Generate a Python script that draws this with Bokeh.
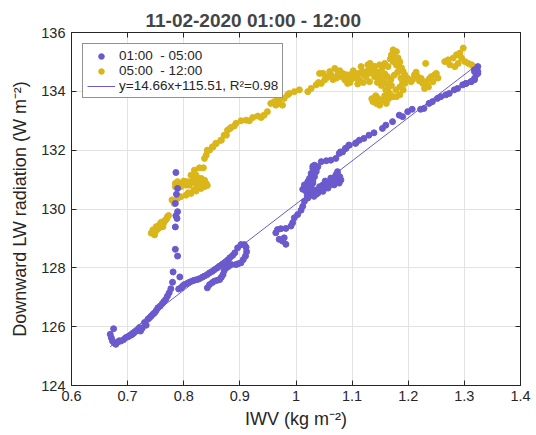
from bokeh.plotting import figure
from bokeh.models import Legend, LegendItem, FixedTicker, ColumnDataSource, LinearAxis, Range1d
from bokeh.embed import file_html
from bokeh.resources import INLINE

# ---- data ----
purple_x = [0.675, 0.669, 0.671, 0.673, 0.676, 0.679, 0.682, 0.685, 0.688, 0.693, 0.697, 0.701, 0.706, 0.709, 0.712,
            0.716, 0.721, 0.723, 0.726, 0.730, 0.733, 0.736, 0.739, 0.742, 0.745, 0.748, 0.751, 0.754, 0.758, 0.762,
            0.765, 0.768, 0.771, 0.774, 0.777, 0.791, 0.795, 0.798, 0.801, 0.806, 0.810, 0.815, 0.819, 0.824, 0.828,
            0.833, 0.837, 0.842, 0.846, 0.851, 0.855, 0.860, 0.864, 0.869, 0.873, 0.878, 0.882, 0.887, 0.891, 0.896,
            0.902, 0.908, 0.911, 0.912, 0.910, 0.906, 0.902, 0.897, 0.893, 0.885, 0.880, 0.876, 0.872, 0.870, 0.867,
            0.864, 0.860, 0.855, 0.851, 0.846, 0.842,
            0.786, 0.789, 0.787, 0.785, 0.789, 0.786, 0.788, 0.785, 0.785, 0.789, 0.781, 0.793, 0.780,
            0.982, 0.976, 0.979, 0.970, 0.964, 0.967, 0.973, 0.982, 0.991, 0.994, 0.997, 1.003, 1.009, 1.012, 1.015,
            1.021, 1.024, 1.018, 1.012, 1.015, 1.021, 1.024, 1.027, 1.030, 1.033, 1.039, 1.036, 1.033, 1.030, 1.027,
            1.033, 1.042, 1.048, 1.054, 1.060, 1.065, 1.071, 1.074, 1.080, 1.077, 1.068, 1.057, 1.048, 1.039, 1.032,
            1.020, 1.026, 1.036, 1.044, 1.050, 1.058, 1.063, 1.069, 1.074, 1.078, 1.072, 1.062, 1.052, 1.028, 1.025,
            1.020, 1.030, 1.036, 1.030,
            1.045, 1.054, 1.062, 1.071, 1.077, 1.083, 1.089, 1.095, 1.107, 1.113,
            1.079, 1.088, 1.094, 1.106, 1.121, 1.130, 1.139, 1.154, 1.160, 1.172, 1.184, 1.190, 1.199, 1.207, 1.222,
            1.228, 1.237, 1.243, 1.252, 1.258, 1.267, 1.273, 1.282, 1.288, 1.297, 1.303, 1.312, 1.318, 1.321, 1.324,
            1.318, 1.324, 1.321, 1.318, 1.324, 1.318, 1.312, 1.303]
purple_y = [125.93, 125.74, 125.62, 125.51, 125.45, 125.40, 125.47, 125.52, 125.51, 125.56, 125.63, 125.66, 125.71, 125.75, 125.80,
            125.86, 125.97, 125.85, 125.95, 126.14, 126.05, 126.25, 126.30, 126.36, 126.42, 126.47, 126.55, 126.64, 126.70, 126.79,
            126.86, 126.93, 127.04, 127.15, 127.29, 127.28, 127.32, 127.38, 127.43, 127.47, 127.51, 127.55, 127.58, 127.60, 127.63,
            127.68, 127.72, 127.77, 127.83, 127.88, 127.94, 128.00, 128.06, 128.12, 128.17, 128.25, 128.34, 128.42, 128.51, 128.68,
            128.79, 128.79, 128.70, 128.55, 128.40, 128.28, 128.17, 128.14, 128.11, 128.11, 128.05, 128.00, 127.90, 127.77, 127.68,
            127.60, 127.58, 127.55, 127.50, 127.43, 127.32,
            131.24, 130.70, 130.50, 130.19, 129.91, 129.77, 129.68, 129.39, 128.63, 128.40, 127.86, 127.69, 127.51,
            128.80, 128.91, 129.02, 128.97, 129.19, 129.30, 129.33, 129.34, 129.42, 129.53, 129.70, 129.81, 129.96, 130.09, 130.26,
            130.37, 130.48, 130.60, 130.67, 130.82, 130.93, 131.04, 131.21, 131.38, 131.49, 131.44, 131.27, 131.10, 130.88, 130.71,
            130.65, 130.76, 130.82, 130.88, 130.93, 130.99, 131.16, 131.27, 130.99, 130.88, 130.82, 130.71, 130.60, 130.54, 130.43,
            130.45, 130.55, 130.50, 130.65, 130.70, 130.78, 130.85, 130.92, 131.05, 131.10, 130.95, 131.05, 130.95, 131.05, 130.85,
            130.70, 130.95, 131.35, 131.45,
            131.61, 131.64, 131.66, 131.72, 131.89, 131.94, 132.06, 132.17, 132.25, 132.34,
            131.94, 132.06, 132.17, 132.23, 132.40, 132.51, 132.59, 132.74, 132.85, 132.97, 133.19, 133.14, 133.31, 133.39, 133.39,
            133.42, 133.59, 133.65, 133.76, 133.82, 133.88, 133.93, 134.05, 134.10, 134.22, 134.27, 134.33, 134.39, 134.56, 134.67,
            134.73, 134.84, 134.73, 134.67, 134.61, 134.44, 134.33, 134.27]

yellow_x = [0.742, 0.745, 0.751, 0.757, 0.763, 0.768, 0.771, 0.748, 0.754, 0.763, 0.760, 0.766,
            0.745, 0.750, 0.756, 0.760, 0.752, 0.758, 0.765, 0.770, 0.773, 0.748,
            0.779, 0.783, 0.789, 0.795, 0.804, 0.813, 0.822, 0.831, 0.837, 0.840, 0.837, 0.831, 0.825, 0.822, 0.816,
            0.810, 0.804, 0.795, 0.789, 0.785, 0.785, 0.795, 0.807, 0.813, 0.819, 0.828, 0.835, 0.837, 0.840, 0.846,
            0.852, 0.858, 0.867, 0.876, 0.882,
            0.790, 0.800, 0.812, 0.822, 0.830, 0.835, 0.842, 0.826, 0.818, 0.808,
            0.842, 0.851, 0.857, 0.866, 0.872, 0.878, 0.884, 0.890, 0.893, 0.902, 0.911, 0.917, 0.923, 0.932, 0.938,
            0.943, 0.949, 0.955, 0.961, 0.967, 0.973, 0.979, 0.985, 0.988, 0.970, 0.976, 0.964, 0.997, 1.006, 1.021,
            1.027, 1.036, 1.045, 1.051, 1.042, 1.048, 1.057, 1.060, 1.069, 1.075, 1.081, 1.087, 1.092, 1.090,
            1.063, 1.072, 1.078, 1.084, 1.066, 1.090, 1.054, 1.096, 1.040,
            1.095, 1.101, 1.110, 1.119, 1.125, 1.131, 1.137, 1.143, 1.149, 1.155, 1.161, 1.164, 1.167, 1.173, 1.179,
            1.185, 1.191, 1.194, 1.194, 1.191, 1.185, 1.179, 1.182, 1.179, 1.173, 1.170, 1.173, 1.164, 1.155, 1.149,
            1.137, 1.143, 1.149, 1.161, 1.155, 1.146, 1.113, 1.104, 1.128, 1.116,
            1.098, 1.107, 1.113, 1.122, 1.128, 1.134, 1.140, 1.146, 1.152, 1.158, 1.163, 1.169, 1.175, 1.181, 1.187,
            1.190, 1.185, 1.178, 1.170, 1.160, 1.152, 1.145, 1.140, 1.132, 1.158, 1.168, 1.176, 1.185, 1.142, 1.150,
            1.158, 1.135, 1.165, 1.188, 1.196, 1.120, 1.110, 1.102,
            1.199, 1.205, 1.211, 1.217, 1.223, 1.226, 1.229, 1.232, 1.238, 1.244, 1.247, 1.250, 1.231, 1.265, 1.271,
            1.280, 1.286, 1.292, 1.298, 1.295, 1.301, 1.307, 1.313, 1.316, 1.274, 1.283, 1.289,
            1.208, 1.214, 1.220, 1.234, 1.241, 1.253, 1.236]
yellow_y = [129.18, 129.29, 129.40, 129.46, 129.51, 129.63, 129.74, 129.12, 129.34, 129.40, 129.55, 129.60,
            129.20, 129.25, 129.35, 129.42, 129.30, 129.50, 129.55, 129.68, 129.78, 129.22,
            130.31, 130.19, 130.36, 130.42, 130.47, 130.53, 130.61, 130.70, 130.76, 130.87, 130.98, 131.04, 131.04, 131.15, 130.98,
            130.81, 130.81, 130.87, 130.93, 130.87, 130.76, 130.76, 130.93, 131.15, 131.32, 131.40, 131.40, 131.72, 131.83, 132.00,
            132.11, 132.23, 132.34, 132.51, 132.73,
            130.85, 130.95, 130.90, 130.85, 130.92, 130.85, 130.80, 130.75, 130.65, 130.55,
            132.00, 132.11, 132.23, 132.34, 132.51, 132.68, 132.77, 132.82, 132.91, 133.00, 133.02, 133.00, 133.11, 133.16, 133.11,
            133.19, 133.31, 133.59, 133.65, 133.70, 133.76, 133.76, 133.88, 133.93, 133.59, 133.53, 133.53, 133.99, 134.05, 133.99,
            134.10, 134.22, 134.27, 134.39, 134.61, 134.61, 134.50, 134.67, 134.78, 134.61, 134.50, 134.39, 134.27, 134.56,
            134.55, 134.45, 134.70, 134.60, 134.40, 134.45, 134.45, 134.30, 134.30,
            134.56, 134.50, 134.56, 134.67, 134.50, 134.33, 134.78, 134.67, 134.56, 134.39, 134.27, 134.10, 133.93, 133.82, 133.82,
            133.88, 134.05, 134.27, 134.56, 134.67, 134.78, 134.89, 135.13, 135.35, 135.41, 135.24, 135.01, 134.84, 134.84, 134.90,
            133.65, 133.59, 133.53, 133.59, 133.70, 133.76, 134.39, 134.61, 134.90, 134.84,
            134.40, 134.45, 134.62, 134.55, 134.70, 134.62, 134.50, 134.45, 134.70, 134.60, 134.50, 134.40, 134.55, 134.65, 134.45,
            134.30, 134.15, 134.05, 134.20, 134.05, 134.20, 134.30, 134.85, 134.95, 134.95, 135.10, 135.15, 135.00, 133.85, 133.70,
            133.85, 133.75, 133.75, 134.80, 134.40, 134.30, 134.25, 134.70,
            134.44, 134.33, 134.56, 134.50, 134.44, 134.27, 134.10, 134.33, 134.44, 134.33, 134.56, 134.61, 134.95, 135.01, 135.07,
            135.13, 135.24, 135.30, 135.47, 135.13, 135.01, 134.95, 134.90, 134.84, 134.90, 134.84, 134.95,
            134.40, 134.65, 134.35, 134.20, 134.50, 134.45, 134.15]

fit_slope = 14.66
fit_intercept = 115.51
legend_labels = ["01:00  - 05:00", "05:00  - 12:00", "y=14.66x+115.51, R\u00b2=0.98"]
x_ticks = [0.6, 0.7, 0.8, 0.9, 1.0, 1.1, 1.2, 1.3, 1.4]
x_tick_labels = ["0.6", "0.7", "0.8", "0.9", "1", "1.1", "1.2", "1.3", "1.4"]
y_ticks = [124, 126, 128, 130, 132, 134, 136]

PURPLE = "#6a5acd"
YELLOW = "#dab61a"
FONT = "Liberation Sans"

p = figure(width=536, height=435, output_backend="svg", toolbar_location=None,
           x_range=Range1d(0.6, 1.4), y_range=Range1d(124, 136),
           min_border_left=71, min_border_right=16, min_border_top=32, min_border_bottom=50,
           title="11-02-2020 01:00 - 12:00")
p.title.align = "left"
p.title.text_font = FONT
p.title.text_font_size = "19px"
p.title.text_font_style = "bold"
p.title.offset = 74
p.title.standoff = 3
p.background_fill_color = "white"
p.border_fill_color = "white"
p.outline_line_color = "#262626"
p.outline_line_width = 1

for ax in (p.xaxis[0], p.yaxis[0]):
    ax.axis_line_color = "#262626"
    ax.major_tick_line_color = "#262626"
    ax.major_tick_in = 5
    ax.major_tick_out = 0
    ax.minor_tick_line_color = None
    ax.major_label_text_font = FONT
    ax.major_label_text_font_size = "14.5px"
    ax.major_label_text_color = "#262626"
    ax.axis_label_text_font = FONT
    ax.axis_label_text_font_size = "18px"
    ax.axis_label_text_font_style = "normal"
    ax.axis_label_text_color = "#262626"

p.xaxis.ticker = FixedTicker(ticks=x_ticks)
p.xaxis.major_label_overrides = {t: l for t, l in zip(x_ticks, x_tick_labels)}
p.yaxis.ticker = FixedTicker(ticks=y_ticks)
p.xaxis.axis_label = "IWV (kg m\u207b\u00b2)"
p.yaxis.axis_label = "Downward LW radiation (W m\u207b\u00b2)"
p.xaxis.major_label_standoff = 5
p.xaxis.axis_label_standoff = 5
p.yaxis.major_label_standoff = 6
p.yaxis.axis_label_standoff = 8

# inward ticks on top and right
for loc in ("above", "right"):
    ax = LinearAxis(ticker=FixedTicker(ticks=x_ticks if loc == "above" else y_ticks),
                    major_label_text_font_size="0px", major_label_standoff=0,
                    major_tick_in=5, major_tick_out=0, minor_tick_line_color=None,
                    axis_line_color="#262626", major_tick_line_color="#262626")
    if loc == "above":
        ax.major_label_overrides = {t: "" for t in x_ticks}
    else:
        ax.major_label_overrides = {t: "" for t in y_ticks}
    p.add_layout(ax, loc)

p.xgrid.grid_line_color = "#e3e3e3"
p.ygrid.grid_line_color = "#e3e3e3"
p.xgrid.ticker = FixedTicker(ticks=x_ticks)
p.ygrid.ticker = FixedTicker(ticks=y_ticks)

src_p = ColumnDataSource(dict(x=purple_x, y=purple_y))
src_y = ColumnDataSource(dict(x=yellow_x, y=yellow_y))
p.scatter("x", "y", source=src_y, size=6, color=YELLOW, line_color=YELLOW)
p.scatter("x", "y", source=src_p, size=6, color=PURPLE, line_color=PURPLE)

xmin, xmax = min(purple_x), max(purple_x)
fit = p.line([xmin, xmax], [fit_slope * xmin + fit_intercept, fit_slope * xmax + fit_intercept],
             line_color=PURPLE, line_width=1)

# legend proxies: first point of each series, muted (invisible on the plot), bigger legend marker
lp = p.scatter(x=purple_x[:1], y=purple_y[:1], size=11, color=PURPLE, muted_alpha=0)
ly = p.scatter(x=yellow_x[:1], y=yellow_y[:1], size=11, color=YELLOW, muted_alpha=0)
lp.muted = True
ly.muted = True

legend = Legend(items=[LegendItem(label=legend_labels[0], renderers=[lp]),
                       LegendItem(label=legend_labels[1], renderers=[ly]),
                       LegendItem(label=legend_labels[2], renderers=[fit])],
                location="top_left", margin=11, padding=4, spacing=0,
                label_text_font=FONT, label_text_font_size="13.5px", label_text_color="#262626",
                label_height=14, glyph_height=14, glyph_width=28, label_standoff=4,
                border_line_color="#262626", border_line_width=1, background_fill_alpha=1)
p.add_layout(legend)

open("out.html", "w").write(file_html(p, INLINE))
